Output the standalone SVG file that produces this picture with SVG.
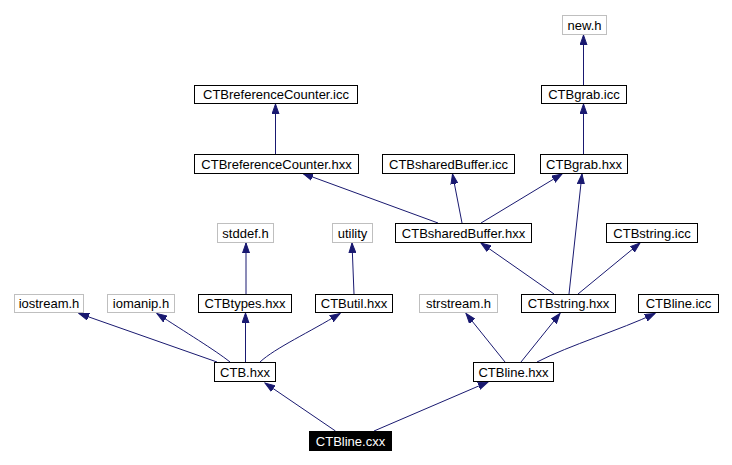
<svg xmlns="http://www.w3.org/2000/svg" width="732" height="465" viewBox="0 0 732 465">
<defs>
<style>
.n rect{fill:#fff;stroke:#000;stroke-width:1}
.g rect{fill:#fff;stroke:#bfbfbf;stroke-width:1}
.m rect{fill:#000;stroke:#000;stroke-width:1}
text{font-family:"Liberation Sans",Arial,sans-serif;font-size:13px;text-anchor:middle;fill:#000}
.m text{fill:#fff}
.e path{fill:none;stroke:#191970;stroke-width:1;marker-end:url(#a)}
</style>
<marker id="a" markerUnits="userSpaceOnUse" markerWidth="11" markerHeight="8" viewBox="0 0 11 8" refX="10" refY="4" orient="auto">
<path d="M0,0.5 L10,4 L0,7.5 Z" fill="#191970" stroke="#191970" stroke-width="1"/>
</marker>
</defs>
<rect width="732" height="465" fill="#fff"/>
<g class="e" id="edges">
<path d="M335.5,431 L265,383"/>
<path d="M374,431 L488,382"/>
<path d="M217,362 L79,313.5"/>
<path d="M230,362 C215,350 185,332 157,313.5"/>
<path d="M245.5,362 L245.5,313"/>
<path d="M260,362 C275,348 310,332 340,313.5"/>
<path d="M246,294 L246,243"/>
<path d="M354,294 L352,243"/>
<path d="M505,362 L466,313.5"/>
<path d="M521,362 L560,313.5"/>
<path d="M537,362 C570,345 620,330 655,313.5"/>
<path d="M554,294 L481,243"/>
<path d="M569,294 L582,174"/>
<path d="M578,294 L640,243"/>
<path d="M438,223 L303,173.5"/>
<path d="M462,223 L452.5,174"/>
<path d="M481,223 L562,174"/>
<path d="M275.5,154 L275.5,104"/>
<path d="M583.5,154 L583.5,104"/>
<path d="M583.5,85 L583.5,35"/>
</g>
<g id="new_h" class="g"><rect x="562.5" y="15.5" width="44" height="19"/><text x="584.5" y="29.5">new.h</text></g>
<g id="CTBgrab_icc" class="n"><rect x="541.5" y="85.5" width="85" height="18"/><text x="584" y="99">CTBgrab.icc</text></g>
<g id="CTBreferenceCounter_icc" class="n"><rect x="194.5" y="85.5" width="163" height="18"/><text x="276" y="99">CTBreferenceCounter.icc</text></g>
<g id="CTBreferenceCounter_hxx" class="n"><rect x="194.5" y="154.5" width="164" height="19"/><text x="276.5" y="168.5">CTBreferenceCounter.hxx</text></g>
<g id="CTBsharedBuffer_icc" class="n"><rect x="382.5" y="154.5" width="132" height="19"/><text x="448.5" y="168.5">CTBsharedBuffer.icc</text></g>
<g id="CTBgrab_hxx" class="n"><rect x="540.5" y="154.5" width="87" height="19"/><text x="584" y="168.5">CTBgrab.hxx</text></g>
<g id="stddef_h" class="g"><rect x="217.5" y="223.5" width="56" height="19"/><text x="245.5" y="237.5">stddef.h</text></g>
<g id="utility" class="g"><rect x="332.5" y="223.5" width="40" height="19"/><text x="352.5" y="237.5">utility</text></g>
<g id="CTBsharedBuffer_hxx" class="n"><rect x="395.5" y="223.5" width="136" height="19"/><text x="463.5" y="237.5">CTBsharedBuffer.hxx</text></g>
<g id="CTBstring_icc" class="n"><rect x="606.5" y="223.5" width="91" height="19"/><text x="652" y="237.5">CTBstring.icc</text></g>
<g id="iostream_h" class="g"><rect x="14.5" y="294.5" width="69" height="18"/><text x="49" y="308">iostream.h</text></g>
<g id="iomanip_h" class="g"><rect x="107.5" y="294.5" width="67" height="18"/><text x="141" y="308">iomanip.h</text></g>
<g id="CTBtypes_hxx" class="n"><rect x="198.5" y="294.5" width="93" height="18"/><text x="245" y="308">CTBtypes.hxx</text></g>
<g id="CTButil_hxx" class="n"><rect x="315.5" y="294.5" width="77" height="18"/><text x="354" y="308">CTButil.hxx</text></g>
<g id="strstream_h" class="g"><rect x="419.5" y="294.5" width="78" height="18"/><text x="458.5" y="308">strstream.h</text></g>
<g id="CTBstring_hxx" class="n"><rect x="521.5" y="294.5" width="94" height="18"/><text x="568.5" y="308">CTBstring.hxx</text></g>
<g id="CTBline_icc" class="n"><rect x="638.5" y="294.5" width="80" height="18"/><text x="678.5" y="308">CTBline.icc</text></g>
<g id="CTB_hxx" class="n"><rect x="214.5" y="362.5" width="61" height="19"/><text x="245" y="376.5">CTB.hxx</text></g>
<g id="CTBline_hxx" class="n"><rect x="473.5" y="362.5" width="80" height="19"/><text x="513.5" y="376.5">CTBline.hxx</text></g>
<g id="CTBline_cxx" class="m"><rect x="309.5" y="431.5" width="82" height="19"/><text x="350.5" y="445.5">CTBline.cxx</text></g>
</svg>
